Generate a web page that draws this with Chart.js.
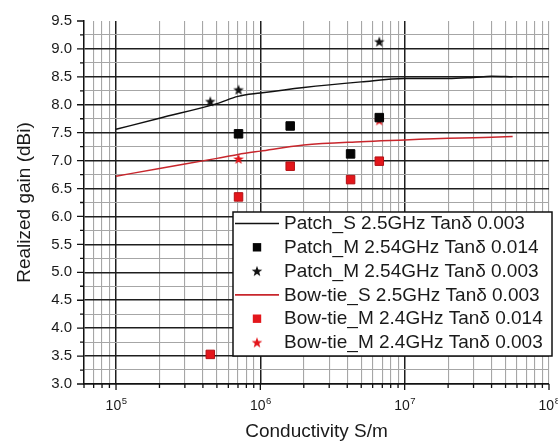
<!DOCTYPE html>
<html>
<head>
<meta charset="utf-8">
<script src="https://cdn.jsdelivr.net/npm/chart.js@4/dist/chart.umd.min.js"></script>
<style>
  html, body { margin: 0; padding: 0; background: #fff; }
  #wrap { width: 558px; height: 445px; }
</style>
</head>
<body>
<div id="wrap"><canvas id="c" width="558" height="445"></canvas></div>
<script>
// ---- data -------------------------------------------------------------
// Simulated realized gain versus conductivity (S/m)
const simConductivity = [1e5, 2e5, 5e5, 7e5, 1e6, 2e6, 5e6, 1e7, 2e7, 3e7, 4e7, 5.6e7];
const patchSimGain    = [7.56, 7.76, 8.02, 8.15, 8.21, 8.31, 8.41, 8.47, 8.47, 8.49, 8.51, 8.50];
const bowtieSimGain   = [6.72, 6.86, 7.04, 7.11, 7.17, 7.28, 7.34, 7.37, 7.40, 7.41, 7.42, 7.43];

// Measured samples
const patchMCond014  = [7.06e5, 1.61e6, 4.22e6, 6.67e6];
const patchMGain014  = [7.48, 7.62, 7.12, 7.77];
const patchMCond003  = [4.5e5, 7.06e5, 6.67e6];
const patchMGain003  = [8.06, 8.27, 9.13];
const bowtieMCond014 = [4.5e5, 7.06e5, 1.61e6, 4.22e6, 6.67e6];
const bowtieMGain014 = [3.53, 6.35, 6.90, 6.66, 6.99];
const bowtieMCond003 = [7.06e5, 6.67e6];
const bowtieMGain003 = [7.03, 7.72];

const seriesLabels = [
  'Patch_S 2.5GHz Tanδ 0.003',
  'Patch_M 2.54GHz Tanδ 0.014',
  'Patch_M 2.54GHz Tanδ 0.003',
  'Bow-tie_S 2.5GHz Tanδ 0.003',
  'Bow-tie_M 2.4GHz Tanδ 0.014',
  'Bow-tie_M 2.4GHz Tanδ 0.003'
];

// Axis ticks
const xDecades      = [1e5, 1e6, 1e7, 1e8];
const xTickBase     = '10';
const xTickExponent = ['5', '6', '7', '8'];
const yTickLabels = ['3.0','3.5','4.0','4.5','5.0','5.5','6.0','6.5','7.0','7.5','8.0','8.5','9.0','9.5'];

// ---- helpers ------------------------------------------------------------
const FONT = "'Liberation Sans', Arial, Helvetica, sans-serif";
const TEXT = '#1a1a1a';
const BLACK = '#111111';
const RED = '#e3161b';
const RED_LINE = '#c8262c';

const X_MIN = 6e4, X_MAX = 1e8;
const Y_MIN = 3.0, Y_MAX = 9.5;

const pts = (xs, ys) => xs.map((x, i) => ({ x: x, y: ys[i] }));

function starImage(color) {
  const c = document.createElement('canvas');
  c.width = 12; c.height = 12;
  const g = c.getContext('2d');
  g.beginPath();
  const R = 5.6, r = 2.3, cx = 6, cy = 6.4;
  for (let k = 0; k < 10; k++) {
    const rad = k % 2 === 0 ? R : r;
    const a = -Math.PI / 2 + k * Math.PI / 5;
    const px = cx + rad * Math.cos(a), py = cy + rad * Math.sin(a);
    if (k === 0) g.moveTo(px, py); else g.lineTo(px, py);
  }
  g.closePath();
  g.fillStyle = color;
  g.fill();
  return c;
}
const blackStar = starImage(BLACK);
const redStar = starImage(RED);

// x grid positions: 1..9 times each decade inside the range
const xGrid = [];
for (let e = 4; e <= 8; e++) {
  for (let m = 1; m <= 9; m++) {
    const v = m * Math.pow(10, e);
    if (v >= X_MIN - 1 && v <= X_MAX + 1) xGrid.push(v);
  }
}
// y grid positions every quarter unit
const yGrid = [];
for (let v = Y_MIN; v <= Y_MAX + 1e-9; v += 0.25) yGrid.push(Math.round(v * 100) / 100);

const isDecade = v => Math.abs(Math.log10(v) - Math.round(Math.log10(v))) < 1e-6;
const isHalf = v => Math.abs(v * 2 - Math.round(v * 2)) < 1e-6;

// ---- plugins ------------------------------------------------------------
// Outward tick marks (long at labelled values, short in between) and
// power-of-ten labels with a raised exponent.
const tickMarks = {
  id: 'tickMarks',
  afterDraw(chart) {
    const { ctx, chartArea } = chart;
    const xs = chart.scales.x, ys = chart.scales.y;
    ctx.save();
    ctx.strokeStyle = BLACK;
    ctx.lineWidth = 1.3;
    ctx.beginPath();
    yGrid.forEach(v => {
      const py = ys.getPixelForValue(v);
      const len = isHalf(v) ? 7 : 4;
      ctx.moveTo(chartArea.left - len, py);
      ctx.lineTo(chartArea.left, py);
    });
    xGrid.forEach(v => {
      const px = xs.getPixelForValue(v);
      const len = isDecade(v) ? 6 : 4;
      ctx.moveTo(px, chartArea.bottom);
      ctx.lineTo(px, chartArea.bottom + len);
    });
    ctx.stroke();

    ctx.fillStyle = TEXT;
    ctx.textBaseline = 'alphabetic';
    ctx.textAlign = 'left';
    const baseFont = '14px ' + FONT, expFont = '9.5px ' + FONT;
    xDecades.forEach((d, i) => {
      const px = xs.getPixelForValue(d);
      ctx.font = baseFont;
      const wb = ctx.measureText(xTickBase).width;
      ctx.font = expFont;
      const we = ctx.measureText(xTickExponent[i]).width;
      const x0 = px - (wb + we) / 2;
      const yb = chartArea.bottom + 26;
      ctx.font = baseFont;
      ctx.fillText(xTickBase, x0, yb);
      ctx.font = expFont;
      ctx.fillText(xTickExponent[i], x0 + wb + 0.5, yb - 6);
    });
    ctx.restore();
  }
};

const boxLegend = {
  id: 'boxLegend',
  afterDraw(chart, args, opts) {
    const { ctx } = chart;
    const b = opts.box;
    ctx.save();
    ctx.fillStyle = '#ffffff';
    ctx.fillRect(b.left, b.top, b.width, b.height);
    ctx.strokeStyle = BLACK;
    ctx.lineWidth = 1.5;
    ctx.strokeRect(b.left, b.top, b.width, b.height);
    ctx.font = opts.fontSize + 'px ' + FONT;
    ctx.textBaseline = 'middle';
    ctx.textAlign = 'left';
    chart.data.datasets.forEach((ds, i) => {
      const cy = b.top + opts.firstRow + i * opts.rowGap;
      const mx = b.left + opts.markerX;
      if (ds.showLine) {
        ctx.strokeStyle = ds.borderColor;
        ctx.lineWidth = 1.6;
        ctx.beginPath();
        ctx.moveTo(b.left + 2, cy);
        ctx.lineTo(b.left + opts.sampleEnd, cy);
        ctx.stroke();
      } else if (ds.pointStyle === 'rect') {
        ctx.fillStyle = ds.backgroundColor;
        ctx.fillRect(mx - 4.2, cy - 4.2, 8.4, 8.4);
      } else {
        const img = ds.pointStyle;
        ctx.drawImage(img, mx - img.width / 2, cy - img.height / 2);
      }
      ctx.fillStyle = TEXT;
      ctx.fillText(ds.label, b.left + opts.textX, cy + 0.5);
    });
    ctx.restore();
  }
};

// ---- chart --------------------------------------------------------------
new Chart(document.getElementById('c'), {
  type: 'scatter',
  data: {
    datasets: [
      { label: seriesLabels[0], data: pts(simConductivity, patchSimGain), showLine: true,
        borderColor: BLACK, borderWidth: 1.5, pointRadius: 0, cubicInterpolationMode: 'monotone' },
      { label: seriesLabels[1], data: pts(patchMCond014, patchMGain014), pointStyle: 'rect',
        backgroundColor: '#050505', borderColor: '#050505', borderWidth: 1, pointRadius: 6 },
      { label: seriesLabels[2], data: pts(patchMCond003, patchMGain003), pointStyle: blackStar,
        backgroundColor: BLACK, borderColor: BLACK, pointRadius: 6 },
      { label: seriesLabels[3], data: pts(simConductivity, bowtieSimGain), showLine: true,
        borderColor: RED_LINE, borderWidth: 1.5, pointRadius: 0, cubicInterpolationMode: 'monotone' },
      { label: seriesLabels[4], data: pts(bowtieMCond014, bowtieMGain014), pointStyle: 'rect',
        backgroundColor: RED, borderColor: '#b31014', borderWidth: 1, pointRadius: 6 },
      { label: seriesLabels[5], data: pts(bowtieMCond003, bowtieMGain003), pointStyle: redStar,
        backgroundColor: RED, borderColor: RED, pointRadius: 6 }
    ]
  },
  options: {
    responsive: false,
    animation: false,
    events: [],
    layout: { padding: { left: 0, top: 10, right: 9, bottom: 0 } },
    plugins: {
      legend: { display: false },
      tooltip: { enabled: false },
      boxLegend: {
        box: { left: 233, top: 212, width: 319, height: 144 },
        firstRow: 11.5, rowGap: 23.8, markerX: 24, sampleEnd: 46, textX: 51, fontSize: 19
      }
    },
    scales: {
      x: {
        type: 'logarithmic',
        position: 'bottom',
        min: X_MIN,
        max: X_MAX,
        afterBuildTicks: s => { s.ticks = xGrid.map(v => ({ value: v, major: false })); },
        afterFit: s => { s.height = 61; s.paddingLeft = 0; s.paddingRight = 0; },
        ticks: {
          autoSkip: false, maxRotation: 0, minRotation: 0, padding: 10,
          color: TEXT, font: { family: FONT, size: 13 },
          callback: () => ''
        },
        grid: {
          drawTicks: false,
          color: c => (c.tick && isDecade(c.tick.value) && c.tick.value < X_MAX) ? '#1e1e1e' : '#a6a6a6',
          lineWidth: c => (c.tick && isDecade(c.tick.value) && c.tick.value < X_MAX) ? 1.5 : 1.1
        },
        border: { display: true, color: BLACK, width: 1.5 },
        title: {
          display: true, text: 'Conductivity S/m', color: TEXT,
          font: { family: FONT, size: 19 }, padding: { top: 0, bottom: 2 }
        }
      },
      y: {
        type: 'linear',
        position: 'left',
        min: Y_MIN,
        max: Y_MAX,
        afterBuildTicks: s => { s.ticks = yGrid.map(v => ({ value: v })); },
        afterFit: s => { s.width = 84; },
        ticks: {
          autoSkip: false, padding: 12,
          color: TEXT, font: { family: FONT, size: 15 },
          callback: v => {
            if (!isHalf(v)) return '';
            const k = Math.round((v - Y_MIN) * 2);
            return yTickLabels[k];
          }
        },
        grid: {
          drawTicks: false,
          color: c => {
            const v = c.tick ? c.tick.value : 0;
            if (v >= Y_MAX - 1e-6) return 'rgba(0,0,0,0)';
            return isHalf(v) ? '#1e1e1e' : '#a6a6a6';
          },
          lineWidth: c => (c.tick && isHalf(c.tick.value)) ? 1.5 : 1.1
        },
        border: { display: true, color: BLACK, width: 1.5 },
        title: {
          display: true, text: 'Realized gain (dBi)', color: TEXT,
          font: { family: FONT, size: 19 }, padding: { top: 13, bottom: 0 }
        }
      }
    }
  },
  plugins: [tickMarks, boxLegend]
});
</script>
</body>
</html>
